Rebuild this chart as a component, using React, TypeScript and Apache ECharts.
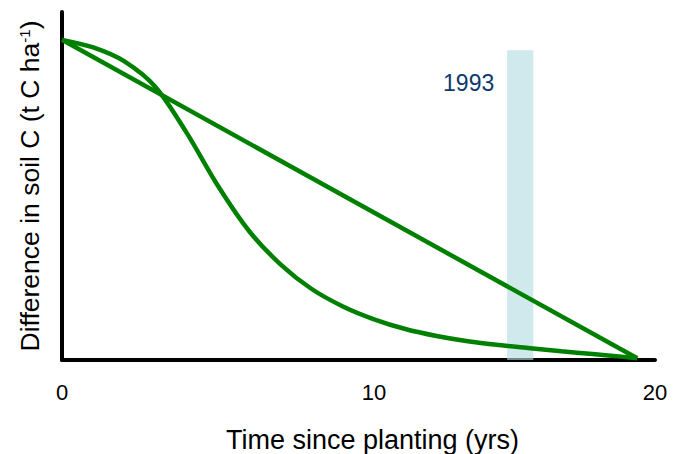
import React, { useEffect, useRef } from "react";
import * as echarts from "echarts";

// years since planting
const curveYears = [0, 1, 2, 3, 4, 5, 6, 7, 8, 9, 10, 11, 12, 13, 14, 15, 16, 17, 18, 18.43];
// difference in soil C (relative units)
const curveValues = [92, 89.8, 85.8, 78.4, 65.2, 50.0, 37.0, 27.5, 20.4, 15.4, 11.7, 8.9, 6.9, 5.4, 4.3, 3.4, 2.5, 1.7, 0.9, 0.5];

const lineYears = [0, 18.43];
const lineValues = [92, 0.5];

const bandYears = [14.26, 15.1];
const bandTop = 89;
const bandLabel = "1993";

const tickValues = [0, 10, 19];
const tickLabels = ["0", "10", "20"];

const xTitle = "Time since planting (yrs)";

export default function App() {
  const ref = useRef<HTMLDivElement>(null);
  useEffect(() => {
    if (!ref.current) return;
    const chart = echarts.init(ref.current, undefined, { renderer: "svg" });
    const font = "Liberation Sans, Arial, sans-serif";
    chart.setOption({
      animation: false,
      backgroundColor: "#ffffff",
      grid: { left: 62, right: 18, top: 12, bottom: 94, outerBoundsMode: "none" },
      xAxis: {
        type: "value",
        min: 0,
        max: 19,
        axisLine: { lineStyle: { color: "#000", width: 4 } },
        axisTick: { show: false },
        splitLine: { show: false },
        axisLabel: {
          customValues: tickValues,
          formatter: (v: number) => tickLabels[tickValues.indexOf(v)] ?? "",
          color: "#000",
          fontSize: 22,
          fontFamily: font,
          margin: 21,
        },
        name: xTitle,
        nameLocation: "middle",
        nameGap: 66,
        nameTextStyle: { color: "#000", fontSize: 27, fontFamily: font, padding: [0, 0, 0, 28] },
      },
      yAxis: {
        type: "value",
        min: 0,
        max: 100,
        axisLine: { show: true, lineStyle: { color: "#000", width: 4 } },
        axisTick: { show: false },
        splitLine: { show: false },
        axisLabel: { show: false },
        name: "{a|Difference in soil C (t C ha}{s|-1}{a|)}",
        nameLocation: "middle",
        nameRotate: 90,
        nameGap: 17,
        nameTextStyle: {
          color: "#000",
          fontFamily: font,
          rich: {
            a: { fontSize: 26.5, fontFamily: font, color: "#000", lineHeight: 30 },
            s: { fontSize: 15, fontFamily: font, color: "#000", lineHeight: 30, padding: [0, 0, 12, 0] },
          },
        },
      },
      series: [
        {
          type: "line",
          data: lineYears.map((x, i) => [x, lineValues[i]]),
          symbol: "none",
          lineStyle: { color: "#008000", width: 4.5 },
          z: 2,
        },
        {
          type: "line",
          data: curveYears.map((x, i) => [x, curveValues[i]]),
          symbol: "none",
          smooth: 0.3,
          lineStyle: { color: "#008000", width: 4.5 },
          z: 2,
        },
        {
          type: "line",
          data: [],
          z: 5,
          markArea: {
            silent: true,
            itemStyle: { color: "rgba(178,219,224,0.62)" },
            label: {
              show: true,
              position: [-64, 21],
              formatter: bandLabel,
              color: "#0d3a6e",
              fontSize: 23,
              fontFamily: font,
            },
            data: [[{ coord: [bandYears[0], 0] }, { coord: [bandYears[1], bandTop] }]],
          },
        },
      ],
    });
    return () => chart.dispose();
  }, []);
  return <div ref={ref} style={{ position: "fixed", left: 0, top: 0, width: 673, height: 454 }} />;
}
